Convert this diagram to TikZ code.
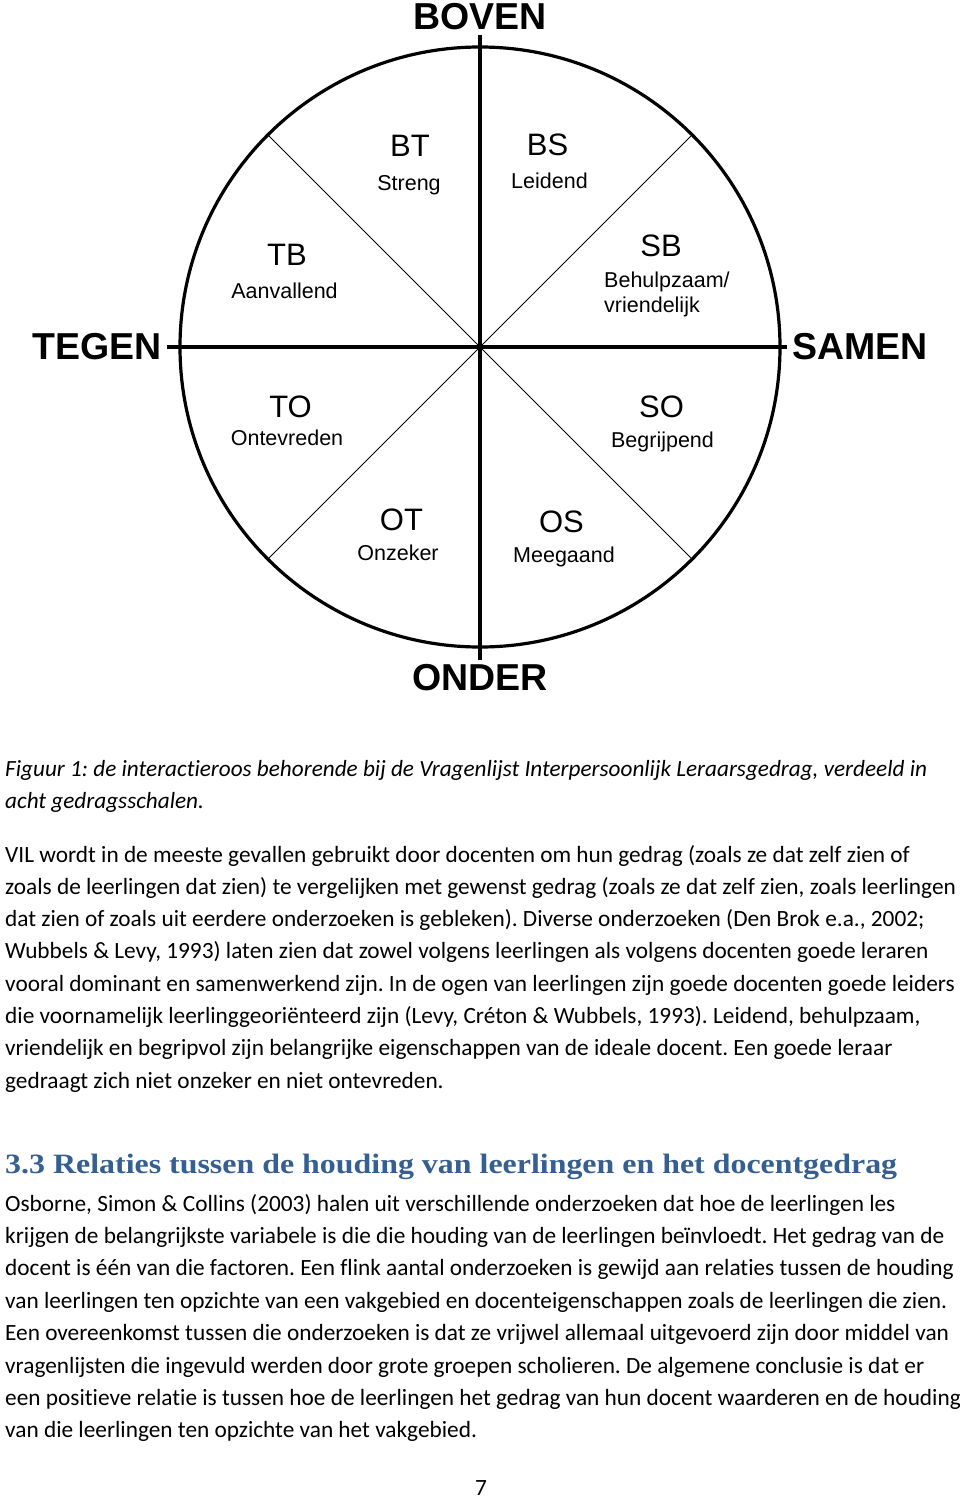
\documentclass[tikz,border=0pt]{standalone}
\usepackage{fontspec}
\setmainfont{Carlito}[Ligatures=NoCommon]
\newfontfamily\arialfont{Liberation Sans}
\newfontfamily\kopfont[FakeStretch=1.14]{Liberation Serif}
\usepackage{tikz}
\usetikzlibrary{calc,positioning}
\definecolor{kopblauw}{RGB}{54,95,145}
\frenchspacing
\tikzset{
    richting/.style={
    font=\arialfont\bfseries\fontsize{37.5}{40}\selectfont,inner sep=0pt,outer sep=5pt
    },
    schaal/.style={
    font=\arialfont\fontsize{31}{34}\selectfont,inner sep=0pt,text height=22pt,text depth=0pt
    },
    gedrag/.style={
    font=\arialfont\fontsize{21.5}{25}\selectfont,inner sep=0pt,text height=15.5pt,text depth=4.5pt
    },
    as/.style={
    line width=3.2pt,draw=black
    },
    diag/.style={
    line width=0.9pt,draw=black
    },
    tekst/.style={
    anchor=base west,inner sep=0pt,font=\fontsize{23.3}{26}\selectfont
    },
    bijschrift/.style={
    tekst,font=\itshape\fontsize{23.2}{26}\selectfont
    },
    kop/.style={
    tekst,text=kopblauw,font=\kopfont\bfseries\fontsize{28}{32}\selectfont
    },
}
\begin{document}
\begin{tikzpicture}[x=1pt, y=1pt, node distance=37pt, on grid]
   \fill[white] (0,0) rectangle (960,-1498);
   \useasboundingbox (0,0) rectangle (960,-1498);

   % de roos
   \coordinate (c) at (480,-347);
   \coordinate (ne) at ($(c)+(45:300pt)$);
   \coordinate (nw) at ($(c)+(135:300pt)$);
   \coordinate (sw) at ($(c)+(225:300pt)$);
   \coordinate (se) at ($(c)+(315:300pt)$);
   \draw[as] (c) circle (300pt);
   \draw[diag] (nw) -- (se);
   \draw[diag] (ne) -- (sw);

   \node[richting] (BOVEN) at (480,-17)  {BOVEN};
   \node[richting] (ONDER) at (480,-678) {ONDER};
   \node[richting] (TEGEN) at (97,-347)  {TEGEN};
   \node[richting] (SAMEN) at (860,-347) {SAMEN};
   \draw[as] (BOVEN.south) -- (ONDER.north);
   \draw[as] (TEGEN.east) -- (SAMEN.west);

   \node[schaal] (BT) at (410,-146)   {BT};
   \node[schaal] (BS) at (547.5,-145) {BS};
   \node[schaal] (TB) at (287,-254)   {TB};
   \node[schaal] (SB) at (661,-245)   {SB};
   \node[schaal] (TO) at (290.5,-406) {TO};
   \node[schaal] (SO) at (661.5,-406) {SO};
   \node[schaal] (OT) at (401.5,-519) {OT};
   \node[schaal] (OS) at (561.5,-521) {OS};

   \node[gedrag] (BTd) [below=38.5pt of BT, xshift=-1pt]   {Streng};
   \node[gedrag] (BSd) [below=38.5pt of BS, xshift=2pt]    {Leidend};
   \node[gedrag] (TBd) [below=38.5pt of TB, xshift=-2.5pt] {Aanvallend};
   \node[gedrag, anchor=base west] (SBd) at (604,-287) {Behulpzaam/};
   \node[gedrag, anchor=base west] (SBv) at (604,-312) {vriendelijk};
   \node[gedrag] (TOd) [below=33.5pt of TO, xshift=-3.5pt] {Ontevreden};
   \node[gedrag] (SOd) [below=35.5pt of SO, xshift=1pt]    {Begrijpend};
   \node[gedrag] (OTd) [below=35.5pt of OT, xshift=-3.5pt] {Onzeker};
   \node[gedrag] (OSd) [below=35.5pt of OS, xshift=2.5pt]  {Meegaand};

   % bijschrift en tekst
   \node[bijschrift] (fig1) at (5,-776) {Figuur 1: de interactieroos behorende bij de Vragenlijst Interpersoonlijk Leraarsgedrag, verdeeld in};
   \node[bijschrift] (fig2) at (5,-808) {acht gedragsschalen.};

   \node[tekst] (p1) at (5,-862)    {VIL wordt in de meeste gevallen gebruikt door docenten om hun gedrag (zoals ze dat zelf zien of};
   \node[tekst] (p2) at (5,-894.3)  {zoals de leerlingen dat zien) te vergelijken met gewenst gedrag (zoals ze dat zelf zien, zoals leerlingen};
   \node[tekst] (p3) at (5,-926.6)  {dat zien of zoals uit eerdere onderzoeken is gebleken). Diverse onderzoeken (Den Brok e.a., 2002;};
   \node[tekst] (p4) at (5,-958.9)  {Wubbels \& Levy, 1993) laten zien dat zowel volgens leerlingen als volgens docenten goede leraren};
   \node[tekst] (p5) at (5,-991.2)  {vooral dominant en samenwerkend zijn. In de ogen van leerlingen zijn goede docenten goede leiders};
   \node[tekst] (p6) at (5,-1023.5) {die voornamelijk leerlinggeoriënteerd zijn (Levy, Créton \& Wubbels, 1993). Leidend, behulpzaam,};
   \node[tekst] (p7) at (5,-1055.8) {vriendelijk en begripvol zijn belangrijke eigenschappen van de ideale docent. Een goede leraar};
   \node[tekst] (p8) at (5,-1088.1) {gedraagt zich niet onzeker en niet ontevreden.};

   \node[kop] (kop) at (5,-1173) {3.3 Relaties tussen de houding van leerlingen en het docentgedrag};

   \node[tekst] (q1) at (5,-1211)   {Osborne, Simon \& Collins (2003) halen uit verschillende onderzoeken dat hoe de leerlingen les};
   \node[tekst] (q2) at (5,-1243.4) {krijgen de belangrijkste variabele is die die houding van de leerlingen beïnvloedt. Het gedrag van de};
   \node[tekst] (q3) at (5,-1275.8) {docent is één van die factoren. Een flink aantal onderzoeken is gewijd aan relaties tussen de houding};
   \node[tekst] (q4) at (5,-1308.2) {van leerlingen ten opzichte van een vakgebied en docenteigenschappen zoals de leerlingen die zien.};
   \node[tekst] (q5) at (5,-1340.6) {Een overeenkomst tussen die onderzoeken is dat ze vrijwel allemaal uitgevoerd zijn door middel van};
   \node[tekst] (q6) at (5,-1373)   {vragenlijsten die ingevuld werden door grote groepen scholieren. De algemene conclusie is dat er};
   \node[tekst] (q7) at (5,-1405.4) {een positieve relatie is tussen hoe de leerlingen het gedrag van hun docent waarderen en de houding};
   \node[tekst] (q8) at (5,-1437.8) {van die leerlingen ten opzichte van het vakgebied.};

   \node[tekst, anchor=base] (blz) at (481,-1495) {7};
\end{tikzpicture}
\end{document}
